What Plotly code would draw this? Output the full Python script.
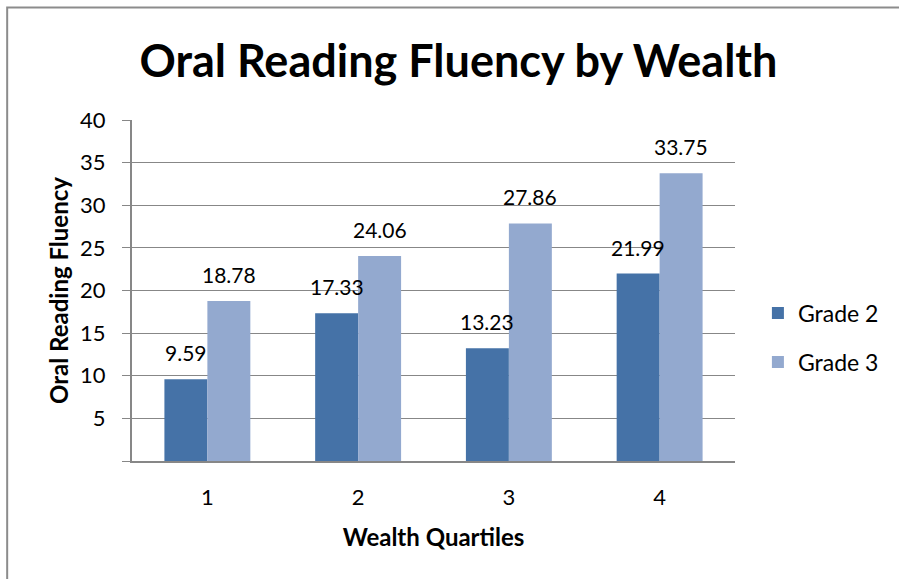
import plotly.graph_objects as go

quartiles = ['1', '2', '3', '4']
grade2 = [9.59, 17.33, 13.23, 21.99]
grade3 = [18.78, 24.06, 27.86, 33.75]
y_ticks = [0, 5, 10, 15, 20, 25, 30, 35, 40]
y_ticktext = ['', '5', '10', '15', '20', '25', '30', '35', '40']

C2 = '#4572A7'
C3 = '#93A9CF'
GRID = '#878787'
FONT = 'Lato'

fig = go.Figure()
fig.add_trace(go.Bar(x=quartiles, y=grade2, name='Grade 2', marker=dict(color=C2, line=dict(width=0)),
                     legendgroup='g2'))
fig.add_trace(go.Bar(x=quartiles, y=grade3, name='Grade 3', marker=dict(color=C3, line=dict(width=0)),
                     legendgroup='g3'))

# value labels above each bar (x given as category index)
for vals, shift in ((grade2, -21.5), (grade3, 21.5)):
    for i, v in enumerate(vals):
        fig.add_annotation(x=i, y=v, text=f'{v:.2f}', showarrow=False, xshift=shift,
                           yanchor='bottom', yshift=12, font=dict(size=21, color='black', family=FONT))

fig.update_layout(
    width=899, height=579,
    margin=dict(l=132, r=164, t=120, b=118),
    paper_bgcolor='white', plot_bgcolor='white',
    font=dict(family=FONT, color='black'),
    barmode='group', bargap=0.43, bargroupgap=0,
    title=dict(text='<b>Oral Reading Fluency by Wealth</b>', x=0.51, xanchor='center',
               y=0.895, yanchor='middle', yref='container', font=dict(size=45, family=FONT)),
    legend=dict(x=1.038, xanchor='left', y=0.362, yanchor='middle', tracegroupgap=16,
                font=dict(size=23, family=FONT), itemwidth=30),
    xaxis=dict(type='category', showline=True, linecolor=GRID, linewidth=2, ticks='', showgrid=False,
               automargin=False, ticklabelstandoff=16, tickfont=dict(size=22),
               title=dict(text='<b>Wealth Quartiles</b>', font=dict(size=24), standoff=20)),
    yaxis=dict(range=[0, 40], tickvals=y_ticks, ticktext=y_ticktext, showgrid=True, gridcolor=GRID,
               gridwidth=1, showline=True, linecolor=GRID, linewidth=2, ticks='outside', ticklen=8,
               tickcolor=GRID, tickwidth=1, ticklabelstandoff=12, tickfont=dict(size=22), zeroline=False,
               automargin=False,
               title=dict(text='<b>Oral Reading Fluency</b>', font=dict(size=24), standoff=5)),
    shapes=[dict(type='rect', xref='paper', yref='paper', x0=-0.207, x1=1.3, y0=-0.4, y1=1.33,
                 line=dict(color='#8c8c8c', width=2), fillcolor='rgba(0,0,0,0)', layer='below')],
)

# drop the default body margin so the chart sits at the page origin
fig.write_html('out.html', config={'displayModeBar': False},
               post_script="document.body.style.margin='0';")
